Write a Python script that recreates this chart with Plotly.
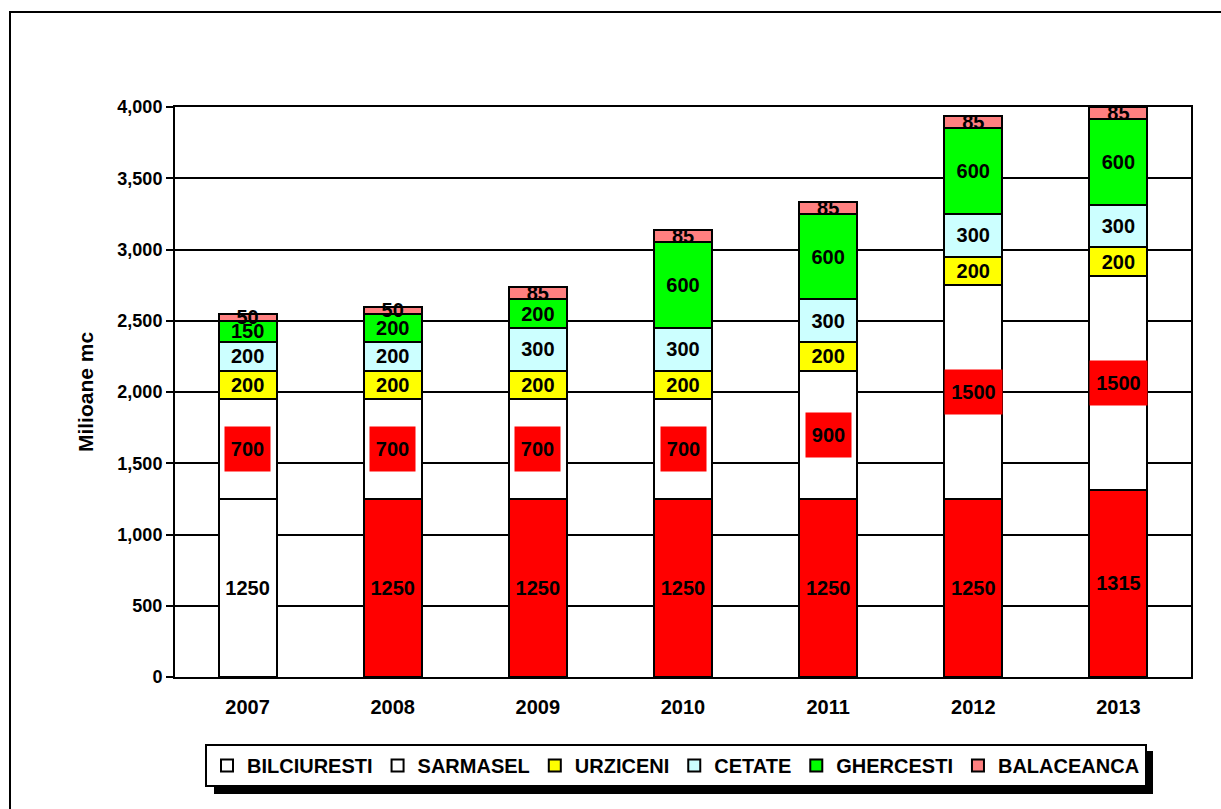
import plotly.graph_objects as go

years = ["2007", "2008", "2009", "2010", "2011", "2012", "2013"]
bilciuresti = [1250, 1250, 1250, 1250, 1250, 1250, 1315]
sarmasel = [700, 700, 700, 700, 900, 1500, 1500]
urziceni = [200, 200, 200, 200, 200, 200, 200]
cetate = [200, 200, 300, 300, 300, 300, 300]
ghercesti = [150, 200, 200, 600, 600, 600, 600]
balaceanca = [50, 50, 85, 85, 85, 85, 85]
bilciuresti_colors = ["#FFFFFF", "#FF0000", "#FF0000", "#FF0000", "#FF0000", "#FF0000", "#FF0000"]

ARIAL = "Liberation Sans, Arial, sans-serif"

fig = go.Figure()

def add_series(name, values, color, show_text=True):
    fig.add_trace(go.Bar(
        name=name, x=years, y=values,
        marker=dict(color=color, line=dict(color="#000000", width=2)),
        text=[str(v) for v in values] if show_text else None,
        textposition="inside" if show_text else "none",
        insidetextanchor="middle",
        textangle=0,
        insidetextfont=dict(family=ARIAL, size=20, color="#000000", weight="bold"),
        hoverinfo="name+y",
    ))

add_series("BILCIURESTI", bilciuresti, bilciuresti_colors)
add_series("SARMASEL", sarmasel, "#FFFFFF", show_text=False)
add_series("URZICENI", urziceni, "#FFFF00")
add_series("CETATE", cetate, "#CCFFFF")
add_series("GHERCESTI", ghercesti, "#00FF00")
add_series("BALACEANCA", balaceanca, "#FF8080")

# red label boxes for SARMASEL (x given as category index)
annotations = []
for i, (b, s) in enumerate(zip(bilciuresti, sarmasel)):
    txt = str(s)
    annotations.append(dict(
        x=i, y=b + s / 2, xref="x", yref="y", text="<b>" + txt + "</b>",
        showarrow=False, bgcolor="#FF0000", borderpad=0,
        width=45 if len(txt) < 4 else 57, height=44,
        font=dict(family=ARIAL, size=20, color="#000000"),
    ))

L, R, T, B = 175, 30, 107, 132
PW, PH = 1221 - L - R, 809 - T - B

def px_x(p):
    return (p - L) / PW

def px_y(p):
    return (809 - B - p) / PH

shapes = [
    # outer frame
    dict(type="rect", xref="paper", yref="paper",
         x0=px_x(10), x1=px_x(1235), y0=px_y(12), y1=px_y(825),
         line=dict(color="#000000", width=2), fillcolor="rgba(0,0,0,0)"),
    # legend shadow
    dict(type="rect", xref="paper", yref="paper",
         x0=px_x(214), x1=px_x(1153), y0=px_y(751), y1=px_y(794),
         line=dict(width=0), fillcolor="#000000"),
]

fig.update_layout(
    barmode="stack",
    bargap=0.6,
    width=1221, height=809,
    margin=dict(l=L, r=R, t=T, b=B, autoexpand=False),
    paper_bgcolor="#FFFFFF", plot_bgcolor="#FFFFFF",
    font=dict(family=ARIAL, color="#000000"),
    uniformtext=dict(minsize=20, mode="show"),
    showlegend=True,
    legend=dict(
        orientation="h", xref="container", yref="container",
        x=676 / 1221, xanchor="center", y=1 - 744 / 809, yanchor="top",
        bgcolor="#FFFFFF", bordercolor="#000000", borderwidth=2,
        font=dict(family=ARIAL, size=20, color="#000000", weight="bold"),
        traceorder="normal",
    ),
    xaxis=dict(
        type="category", categoryorder="array", categoryarray=years,
        range=[-0.5, len(years) - 0.5], autorange=False,
        showline=True, linecolor="#000000", linewidth=2, mirror=True,
        ticks="outside", ticklen=11, tickcolor="rgba(0,0,0,0)",
        tickfont=dict(family=ARIAL, size=20, color="#000000", weight="bold"),
        showgrid=False,
    ),
    yaxis=dict(
        range=[0, 4000], autorange=False, dtick=500, tickformat=",",
        showline=True, linecolor="#000000", linewidth=2, mirror=True,
        ticks="outside", ticklen=7, tickwidth=2, tickcolor="#000000",
        showgrid=True, gridcolor="#000000", gridwidth=1.5,
        zeroline=False,
        tickfont=dict(family=ARIAL, size=18, color="#000000", weight="bold"),
        title=dict(text="Milioane mc", standoff=18,
                   font=dict(family=ARIAL, size=21, color="#000000", weight="bold")),
    ),
    annotations=annotations,
    shapes=shapes,
)

fig.write_html("out.html")
